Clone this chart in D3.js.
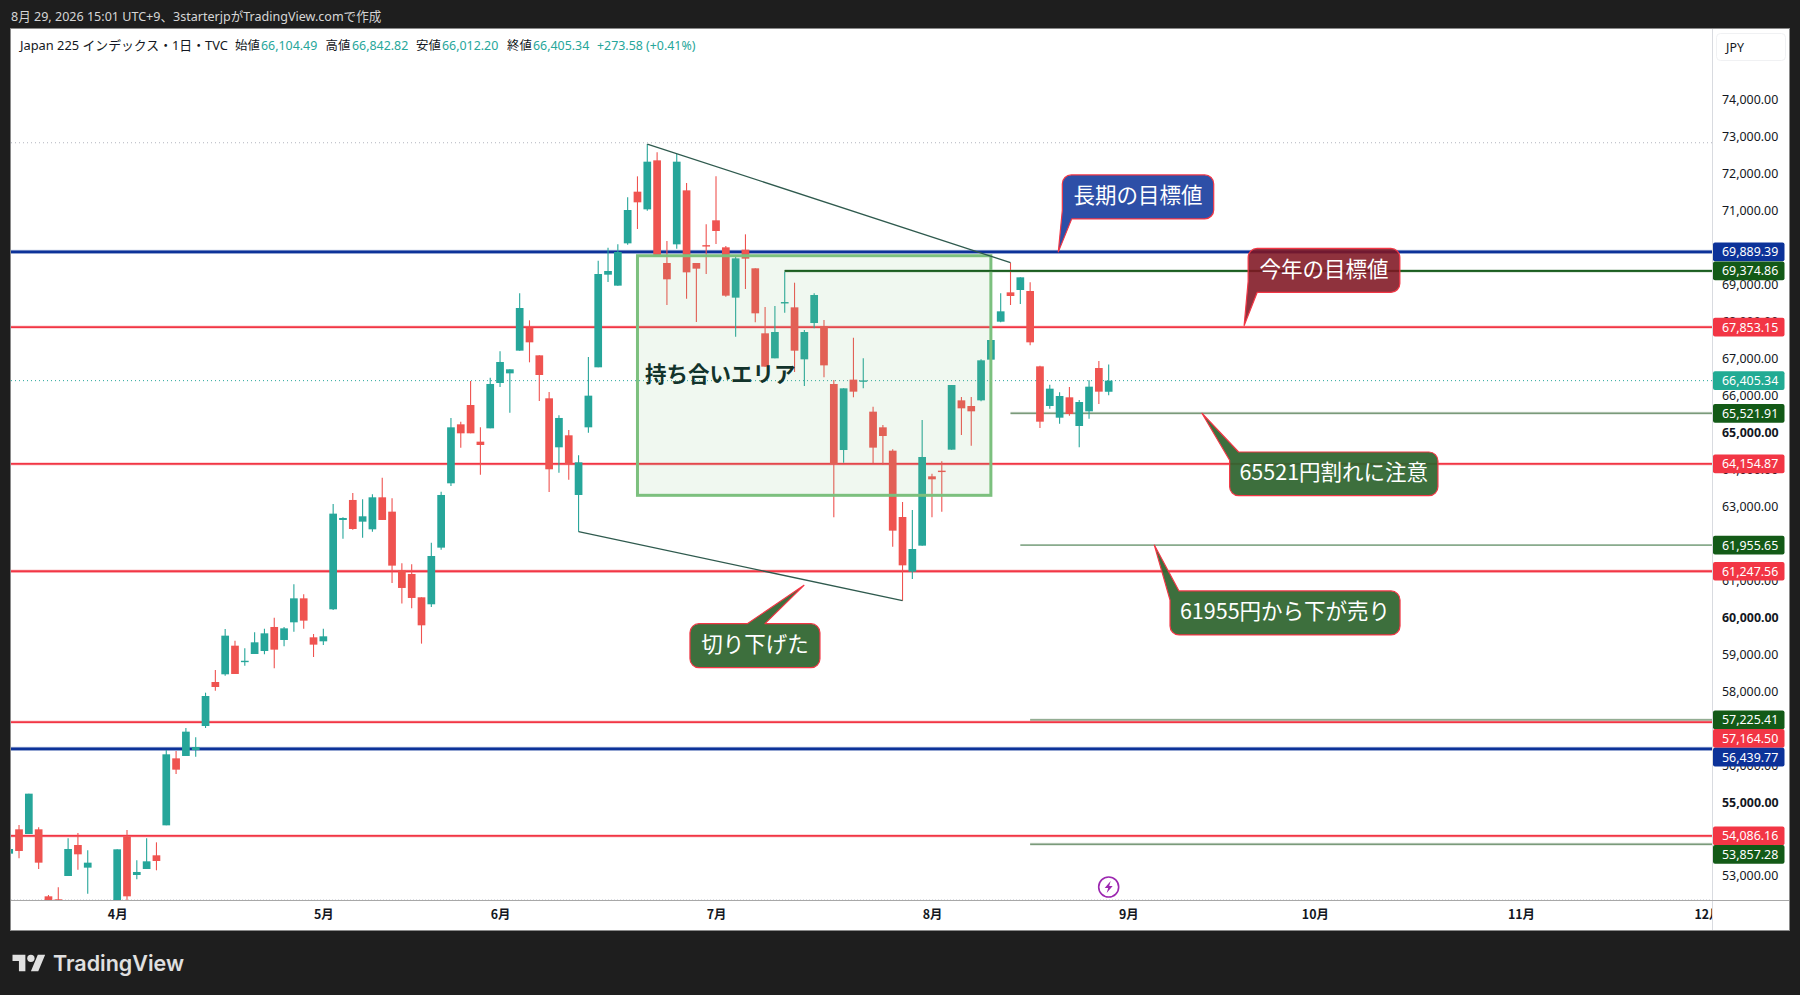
<!DOCTYPE html>
<html>
<head>
<meta charset="utf-8">
<script src="https://cdn.jsdelivr.net/npm/d3@7"></script>
<style>
html, body { margin: 0; padding: 0; background: #1e1e1e; }
svg { display: block; }
text { font-family: "Noto Sans", "Noto Sans CJK JP", sans-serif; }
.jp { font-family: "Noto Sans CJK JP", sans-serif; }
</style>
</head>
<body>
<div id="chart"></div>
<script>
// price data, one entry per trading day
var opens = [53605,54263,54137,54263,52450,52369,53000,53839,53226,51900,
  52050,52000,54065,53027,53190,53560,54371,56184,56248,56410,
  57059,58250,58458,59233,58805,59008,59089,59739,59387,59865,
  60514,59459,59351,60217,62635,63176,62589,62382,63248,62860,
  61273,61173,60542,60353,61886,63627,65223,65746,64754,65115,
  66342,66603,67217,67839,67090,65927,64601,64926,63311,65142,
  66766,69273,68976,70121,71519,71041,72367,69589,70094,71555,
  69589,70072,70744,70013,68651,69950,69445,67686,67009,68518,
  68389,66982,67965,67875,66314,64528,66432,66398,65566,65142,
  64510,62715,61236,61940,63816,63969,64537,65872,65719,65872,
  66973,68001,68795,68858,68831,66792,65719,65403,65954,65178,
  65575,66747,66104.49];
var highs = [53731,54380,55228,54317,52486,52694,54020,54164,53695,52250,
  52300,53722,54245,53424,54020,53911,56410,56383,57005,56753,
  57961,58575,59684,59369,59161,59594,59693,59991,59739,60893,
  60623,59549,59693,63068,62707,63365,63194,63329,63780,63221,
  61462,61435,60542,62021,63401,65395,65295,66396,65142,66486,
  67199,66712,68768,68038,67090,66098,65467,65070,64384,67045,
  69652,70004,70094,71366,71934,72809,72584,70184,72539,71754,
  69589,70635,71934,70049,69760,70365,69445,68398,68425,69354,
  69056,67776,68768,68046,66423,66197,67568,67009,65701,65205,
  64546,63121,62905,65340,63888,64222,66287,65963,65963,66982,
  67505,68768,69598,69201,69065,66810,66296,66089,66233,65881,
  66414,66937,66842.82];
var lows = [53605,53478,54137,53190,52050,52100,53000,53172,52522,51700,
  51800,51900,52340,52910,53190,53154,54371,55761,56248,56230,
  57005,58016,58422,58467,58692,59008,58999,58620,59215,59612,
  59693,58927,59251,60199,62129,62373,62157,62319,62635,60930,
  60371,60244,59288,60280,61832,63555,64592,64980,63861,65115,
  66234,65539,67217,66901,65855,63392,63915,63726,62319,64998,
  66766,69075,68976,70085,70509,71005,69778,68452,69977,68624,
  67992,69291,70103,68678,67596,68885,67983,66784,67009,68245,
  66639,66260,67821,66495,62706,64186,65954,66197,64168,64122,
  61913,60451,61038,61940,62706,62860,64537,64934,64646,65845,
  66711,67983,68452,68479,67361,65124,65647,65241,65457,64601,
  65376,65773,66012.20];
var closes = [53731,53677,55228,53361,52150,52200,53731,53587,53361,52100,
  51950,53722,52450,53109,53397,53406,56293,55878,56906,56491,
  57871,58115,59504,58467,58825,59324,59567,59125,59702,60514,
  59910,59261,59486,62806,62689,62391,62734,63248,62635,61399,
  60795,60524,59784,61660,63311,65142,64980,64980,64664,66315,
  66910,66712,68371,67442,66558,64006,65395,64150,64195,65999,
  69291,69373,69887,71023,71231,72331,69778,69147,72331,69336,
  69436,70058,70455,68705,69715,69706,68227,66784,67722,68532,
  67216,67721,68723,66819,64150,66197,66107,66412,64592,64907,
  62346,61407,61849,64339,63735,63951,66287,65656,65575,66955,
  67505,68281,68696,69201,67442,65295,66188,65990,65503,65827,
  66242,66107,66405.34];

// horizontal levels with their tags on the price axis
var levelPrices = [69889.39,69374.86,67853.15,65521.91,64154.87,61955.65,61247.56,57225.41,57164.50,56439.77,54086.16,53857.28];
var levelKinds = ["blue","green","red","sage","red","thin","red","sage","red","blue","red","sage"];
var levelFromBar = [null,79,null,102,null,103,null,104,null,null,null,104];

var lastPrice = 66405.34;
var highLine = 72842.82;

var priceTicks = [74000,73000,72000,71000,70000,69000,68000,67000,66000,65000,64000,63000,62000,61000,60000,59000,58000,57000,56000,55000,54000,53000];
var boldTicks = [65000,60000,55000];
var monthLabels = ["4月","5月","6月","7月","8月","9月","10月","11月","12月"];
var monthBars = [11,32,50,72,94,114,133,154,173];

var titleItems = ["始値","高値","安値","終値"];
var titleValues = ["66,104.49","66,842.82","66,012.20","66,405.34"];

var W = 1800, H = 995;
var left = 11, top_ = 29, right = 1712, bottom = 900, frameR = 1789, frameB = 930;

var colors = {
  up: "#26a69a", down: "#ef5350",
  blue: "#0c3299", red: "#f23645", green: "#1b5e20", sage: "#7a9a7a", thin: "#2e6b36"
};
var levelWidths = { blue: 2.6, red: 1.8, green: 1.8, sage: 1.4, thin: 1 };

var x = d3.scaleLinear().domain([0, 173]).range([9.2, 1707.5]);
var y = d3.scaleLinear().domain([74000, 53000]).range([100, 876]);

var svg = d3.select("#chart").append("svg").attr("width", W).attr("height", H);
svg.append("rect").attr("width", W).attr("height", H).attr("fill", "#1e1e1e");

var defs = svg.append("defs");
defs.append("clipPath").attr("id", "plot").append("rect")
  .attr("x", left).attr("y", top_).attr("width", right - left).attr("height", bottom - top_);
defs.append("clipPath").attr("id", "timeaxis").append("rect")
  .attr("x", left).attr("y", bottom).attr("width", right - left).attr("height", frameB - bottom);

// frame
svg.append("rect").attr("x", left - 0.5).attr("y", top_ - 0.5)
  .attr("width", frameR - left + 1).attr("height", frameB - top_ + 1)
  .attr("fill", "#fff").attr("stroke", "#8a8a8a");

// header
svg.append("text").attr("x", 11).attr("y", 21).attr("fill", "#d6d6d6").attr("font-size", 12.55)
  .text("8月 29, 2026 15:01 UTC+9、3starterjpがTradingView.comで作成");

var info = svg.append("g").attr("font-size", 12.4);
info.append("text").attr("x", 20).attr("y", 50).attr("fill", "#131722").attr("font-size", 12.85).text("Japan 225 インデックス・1日・TVC");
var infoLabelX = [235, 325.5, 416, 507];
var infoValueX = [261, 352, 442, 533];
titleItems.forEach(function(t, i) {
  info.append("text").attr("x", infoLabelX[i]).attr("y", 50).attr("fill", "#131722").text(t);
  info.append("text").attr("x", infoValueX[i]).attr("y", 50).attr("fill", colors.up).text(titleValues[i]);
});
info.append("text").attr("x", 597).attr("y", 50).attr("fill", colors.up).text("+273.58 (+0.41%)");

// logo
var logo = svg.append("g").attr("transform", "translate(12.5,951) scale(0.92)").attr("fill", "#e0e0e0");
logo.append("path").attr("d", "M14 22H7V11H0V4h14v18zM28 22h-8l7.5-18h8L28 22z");
logo.append("circle").attr("cx", 20).attr("cy", 8).attr("r", 4);
svg.append("text").attr("x", 53).attr("y", 971).attr("fill", "#e0e0e0")
  .attr("font-size", 21.5).attr("font-weight", 600).style("font-family", "Inter").text("TradingView");

var plot = svg.append("g").attr("clip-path", "url(#plot)");

// dotted lines for the visible high and the last price
plot.append("line").attr("x1", left).attr("x2", right).attr("y1", y(highLine)).attr("y2", y(highLine))
  .attr("stroke", "#b2b5be").attr("stroke-dasharray", "1 3");
plot.append("line").attr("x1", left).attr("x2", right).attr("y1", bottom - 0.5).attr("y2", bottom - 0.5)
  .attr("stroke", "#dfe1e6").attr("stroke-dasharray", "1 2");
plot.append("line").attr("x1", left).attr("x2", right).attr("y1", y(lastPrice)).attr("y2", y(lastPrice))
  .attr("stroke", colors.up).attr("stroke-dasharray", "1 3");

// levels sit behind the candles
levelPrices.forEach(function(p, i) {
  var kind = levelKinds[i];
  var x1 = levelFromBar[i] === null ? left : x(levelFromBar[i]);
  var w = levelWidths[kind];
  if (kind != "thin") {
    plot.append("line").attr("x1", x1).attr("x2", right).attr("y1", y(p)).attr("y2", y(p))
      .attr("stroke", colors[kind]).attr("stroke-opacity", 0.25).attr("stroke-width", w + 1.5);
  }
  plot.append("line").attr("x1", x1).attr("x2", right).attr("y1", y(p)).attr("y2", y(p))
    .attr("stroke", colors[kind]).attr("stroke-width", w);
});

// candles
var bars = opens.map(function(o, i) {
  return { i: i, o: o, h: highs[i], l: lows[i], c: closes[i] };
});
var candle = plot.selectAll("g.candle").data(bars).enter().append("g").attr("class", "candle");
candle.append("line")
  .attr("x1", function(d) { return x(d.i); }).attr("x2", function(d) { return x(d.i); })
  .attr("y1", function(d) { return y(d.h); }).attr("y2", function(d) { return y(d.l); })
  .attr("stroke", function(d) { return d.c >= d.o ? colors.up : colors.down; })
  .attr("stroke-width", 1.1);
candle.append("rect")
  .attr("x", function(d) { return x(d.i) - 3.85; }).attr("width", 7.7)
  .attr("y", function(d) { return y(Math.max(d.o, d.c)); })
  .attr("height", function(d) { return Math.max(1.4, Math.abs(y(d.o) - y(d.c))); })
  .attr("fill", function(d) { return d.c >= d.o ? colors.up : colors.down; });

// range box, drawn over the candles
plot.append("rect")
  .attr("x", x(64)).attr("width", x(100) - x(64))
  .attr("y", y(69786)).attr("height", y(63302) - y(69786))
  .attr("fill", "#81c784").attr("fill-opacity", 0.12)
  .attr("stroke", "#7cc07e").attr("stroke-width", 3);

// redraw the dark green level so it stays over the box
plot.append("line").attr("x1", x(79)).attr("x2", right).attr("y1", y(69374.86)).attr("y2", y(69374.86))
  .attr("stroke", colors.green).attr("stroke-width", 1.8);

// trend lines
[[65, 72809, 102, 69598], [58, 62319, 91, 60451]].forEach(function(t) {
  plot.append("line").attr("x1", x(t[0])).attr("y1", y(t[1])).attr("x2", x(t[2])).attr("y2", y(t[3]))
    .attr("stroke", "#2f5a4e").attr("stroke-width", 1.3);
});

plot.append("text").attr("class", "jp").attr("x", 645).attr("y", 382)
  .attr("font-size", 21.5).attr("font-weight", 700).attr("fill", "#12332b").text("持ち合いエリア");

// rounded polygon for the callouts
function roundPoly(pts) {
  var p = d3.path();
  p.moveTo(pts[0][0], pts[0][1]);
  for (var i = 1; i < pts.length; i++) {
    var n = pts[(i + 1) % pts.length];
    if (pts[i][2]) p.arcTo(pts[i][0], pts[i][1], n[0], n[1], pts[i][2]);
    else p.lineTo(pts[i][0], pts[i][1]);
  }
  p.closePath();
  return p.toString();
}

function callout(label, bar, price, box, tail, fill) {
  var tx = x(bar), ty = y(price), r = 9;
  var L = tx + box[0], R = tx + box[1], T = ty + box[2], B = ty + box[3], pts;
  if (tail.kind == "bottom") {
    pts = [[tx, ty], [L, ty + tail.ly], [L, T, r], [R, T, r], [R, B, r], [tx + tail.bx, B]];
  } else if (tail.kind == "top") {
    pts = [[tx, ty], [tx + tail.bx, T], [R, T, r], [R, B, r], [L, B, r], [L, ty + tail.ly]];
  } else {
    pts = [[tx, ty], [tx + tail.bx2, T], [R, T, r], [R, B, r], [L, B, r], [L, T, r], [tx + tail.bx1, T]];
  }
  svg.append("path").attr("d", roundPoly(pts)).attr("fill", fill)
    .attr("stroke", colors.red).attr("stroke-width", 1.2).attr("stroke-linejoin", "round");
  svg.append("text").attr("class", "jp").attr("x", (L + R) / 2).attr("y", (T + B) / 2 + 6.5)
    .attr("text-anchor", "middle").attr("font-size", 21.5).attr("fill", "#fff").text(label);
}

callout("長期の目標値", 106.87, 69889.39, [4, 155.4, -77, -33], { kind: "bottom", ly: -41.7, bx: 13.4 }, "rgba(30,66,160,0.93)");
callout("今年の目標値", 125.8, 67900, [4, 155.7, -77, -33], { kind: "bottom", ly: -44, bx: 13 }, "rgba(128,22,34,0.88)");
callout("65521円割れに注意", 121.5, 65521.91, [27.7, 236, 38.7, 82.4], { kind: "top", bx: 36.7, ly: 47 }, "rgba(46,100,46,0.93)");
callout("61955円から下が売り", 116.65, 61955.65, [15.7, 245.7, 45.9, 89.9], { kind: "top", bx: 24.7, ly: 55 }, "rgba(46,100,46,0.93)");
callout("切り下げた", 80.96, 60867, [-114, 16, 38.4, 82.4], { kind: "mid", bx1: -56.7, bx2: -39 }, "rgba(46,100,46,0.93)");

// event marker on the last bar
var bolt = svg.append("g").attr("transform", "translate(" + x(112) + ",887)");
bolt.append("circle").attr("r", 10).attr("fill", "#fff").attr("stroke", "#9c27b0").attr("stroke-width", 1.6);
bolt.append("path").attr("d", "M2 -6 L-4 1 L-0.5 1 L-2 6 L4 -1 L0.5 -1 Z").attr("fill", "#9c27b0");

// price axis
svg.append("line").attr("x1", right + 0.5).attr("x2", right + 0.5)
  .attr("y1", top_).attr("y2", frameB).attr("stroke", "#d9dbe0");
var yAxis = d3.axisRight(y).tickValues(priceTicks).tickSize(0).tickPadding(0)
  .tickFormat(function(d) { return d3.format(",.2f")(d); });
var yG = svg.append("g").attr("transform", "translate(1722,0)").call(yAxis);
yG.select(".domain").remove();
yG.selectAll("text").attr("x", 0).attr("fill", "#131722").attr("font-size", 12.4)
  .style("font-family", '"Noto Sans", sans-serif')
  .attr("font-weight", function(d) { return boldTicks.indexOf(d) >= 0 ? 700 : 400; });

// time axis
svg.append("line").attr("x1", left).attr("x2", frameR).attr("y1", bottom + 0.5).attr("y2", bottom + 0.5).attr("stroke", "#a8a8a8");
var xAxis = d3.axisBottom(x).tickValues(monthBars).tickSize(0).tickPadding(0)
  .tickFormat(function(d, i) { return monthLabels[i]; });
var xG = svg.append("g").attr("clip-path", "url(#timeaxis)").append("g")
  .attr("transform", "translate(0," + (bottom + 10) + ")").call(xAxis);
xG.select(".domain").remove();
xG.selectAll("text").attr("fill", "#131722").attr("font-size", 12.4).attr("font-weight", 700)
  .style("font-family", '"Noto Sans CJK JP", sans-serif');

// JPY button
svg.append("rect").attr("x", 1716.5).attr("y", 33.5).attr("width", 69).attr("height", 27).attr("rx", 4)
  .attr("fill", "#fff").attr("stroke", "#f0f1f3");
svg.append("text").attr("x", 1726).attr("y", 52).attr("font-size", 12.4).attr("fill", "#131722").text("JPY");

// price tags, pushed down when they would overlap
var tagH = 18.7, prevY = -100;
function tag(p, color) {
  var cy = Math.max(y(p), prevY + tagH - 0.1);
  prevY = cy;
  svg.append("rect").attr("x", 1713).attr("y", cy - tagH / 2).attr("width", 71.5).attr("height", tagH).attr("rx", 2).attr("fill", color);
  svg.append("text").attr("x", 1722).attr("y", cy + 4.5).attr("font-size", 12.4).attr("fill", "#fff").text(d3.format(",.2f")(p));
}
var tagColors = { blue: colors.blue, red: colors.red, green: "#135a17", sage: "#135a17", thin: "#135a17" };
var tagRows = levelPrices.map(function(p, i) { return { p: p, c: tagColors[levelKinds[i]] }; });
tagRows.push({ p: lastPrice, c: "#22ab94" });
tagRows.sort(function(a, b) { return b.p - a.p; });
tagRows.forEach(function(t) { tag(t.p, t.c); });
</script>
</body>
</html>
